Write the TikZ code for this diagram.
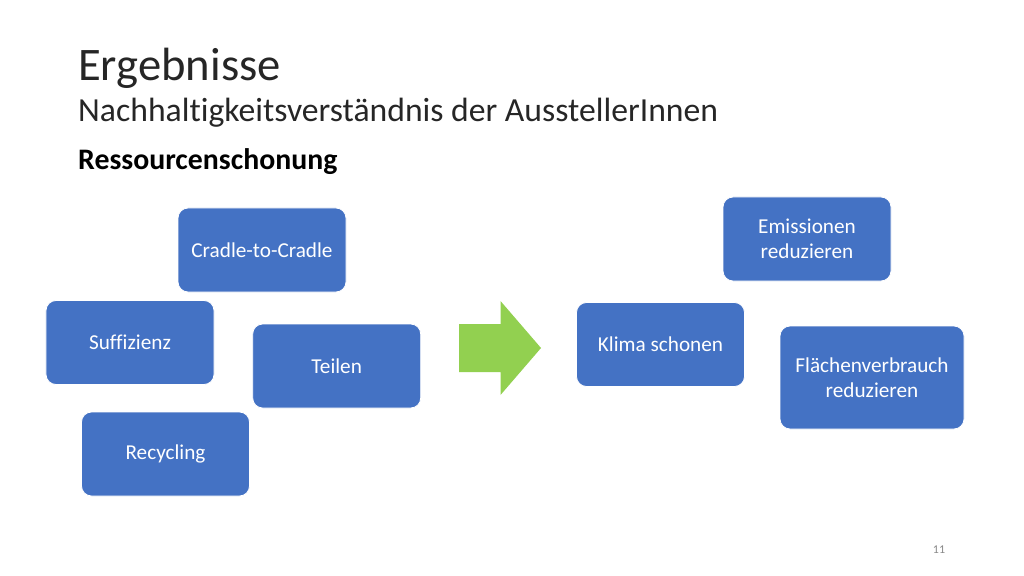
\documentclass[tikz,border=0pt]{standalone}
\usepackage{fontspec}
\setmainfont{Carlito}[Ligatures={NoCommon}]
\definecolor{boxblue}{HTML}{4472C4}
\definecolor{arrowgreen}{HTML}{92D050}
\definecolor{titlegray}{HTML}{262626}
\definecolor{numgray}{HTML}{898989}
\begin{document}
\begin{tikzpicture}[x=1bp,y=-1bp,
  tbox/.style={draw=white, line width=0.8bp, fill=boxblue, rounded corners=10bp,
    text=white, align=center, font=\fontsize{21.3}{25.6}\selectfont, inner sep=0pt},
  ttl/.style={anchor=base west, inner sep=0pt, text=titlegray}]
\useasboundingbox[fill=white] (0,0) rectangle (1024,576);
\node[ttl, font=\fontsize{46.8}{52}\selectfont] (title) at (78,81) {Ergebnisse};
\node[ttl, font=\fontsize{33.8}{38}\selectfont] (sub) at (78,122) {Nachhaltigkeitsverständnis der AusstellerInnen};
\node[ttl, text=black, font=\bfseries\fontsize{29.9}{34}\selectfont] (head) at (78,170) {Ressourcenschonung};
% left boxes
\node[tbox, minimum width=168bp, minimum height=84bp] (c2c) at (262,250) {Cradle-to-Cradle};
\node[tbox, minimum width=168bp, minimum height=84bp] (suff) at (130,342.5) {Suffizienz};
\node[tbox, minimum width=168bp, minimum height=84bp] (teil) at (336.7,366) {Teilen};
\node[tbox, minimum width=168bp, minimum height=84bp] (recy) at (165.5,454) {Recycling};
% arrow
\fill[arrowgreen] (459,324) -- (500.5,324) -- (500.5,301) -- (541,348) -- (500.5,395)
  -- (500.5,372) -- (459,372) -- cycle;
% right boxes
\node[tbox, minimum width=168bp, minimum height=84bp] (emi) at (807,239) {Emissionen\\reduzieren};
\node[tbox, minimum width=168bp, minimum height=84bp] (klima) at (660.5,344.5) {Klima schonen};
\node[tbox, minimum width=184bp, minimum height=103bp] (flae) at (872,377.5) {Flächenverbrauch\\reduzieren};
\node[anchor=base, inner sep=0pt, text=numgray, font=\fontsize{12}{14}\selectfont] (num) at (939,553) {11};
\end{tikzpicture}
\end{document}
